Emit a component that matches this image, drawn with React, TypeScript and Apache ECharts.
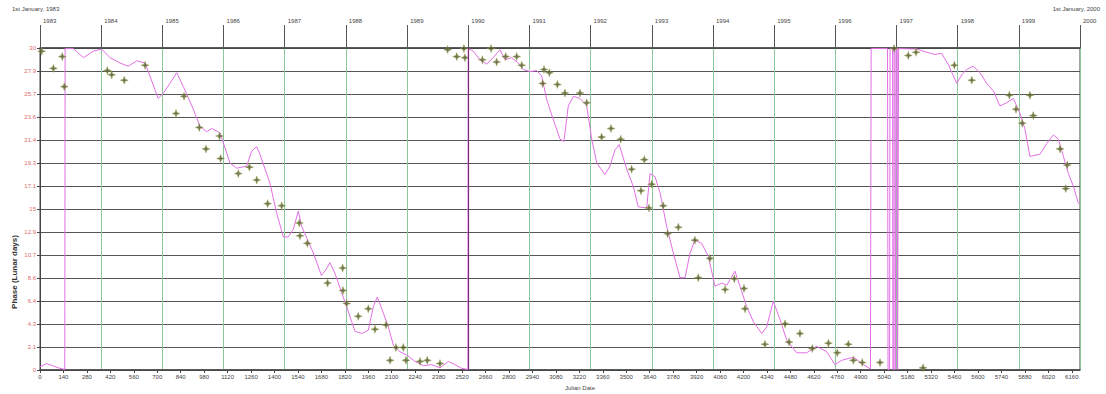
import React, { useEffect, useRef } from "react";
import * as echarts from "echarts";

const TOTAL_DAYS = 6209;
const START_YEAR = 1983;
const END_YEAR = 2000;
const BOTTOM_TICK_STEP = 140;
const PHASE_MAX = 30;
const PHASE_STEPS = 14;

const cornerLabels = ["1st January, 1983", "1st January, 2000"];
const yTitle = "Phase (Lunar days)";
const xTitle = "Julian Date";

const lineDays = [
  0, 40, 75, 110, 148, 150, 199, 259, 318, 368, 418, 478, 527, 577, 627, 706, 736, 776, 816, 856,
  915, 955, 995, 1025, 1075, 1134, 1174, 1234, 1264, 1294, 1313, 1373, 1413, 1453, 1482, 1512, 1542, 1562, 1632, 1680,
  1705, 1731, 1761, 1801, 1831, 1861, 1881, 1921, 1960, 1990, 2014, 2050, 2080, 2110, 2149, 2189, 2239, 2289, 2338, 2388,
  2438, 2478, 2518, 2555, 2557, 2587, 2627, 2667, 2706, 2746, 2776, 2816, 2856, 2886, 2925, 2965, 2995, 3025, 3065, 3105,
  3128, 3154, 3184, 3224, 3264, 3294, 3324, 3373, 3403, 3433, 3458, 3503, 3542, 3572, 3622, 3642, 3672, 3702, 3741, 3781,
  3821, 3851, 3881, 3910, 3950, 3990, 4030, 4070, 4100, 4149, 4179, 4219, 4259, 4309, 4338, 4378, 4418, 4458, 4517, 4577,
  4637, 4697, 4746, 4786, 4856, 4916, 4958, 4962, 5060, 5063, 5072, 5075, 5090, 5092, 5097, 5099, 5104, 5106, 5110, 5112,
  5118, 5120, 5124, 5126, 5234, 5294, 5343, 5383, 5423, 5473, 5503, 5533, 5572, 5612, 5652, 5692, 5731, 5771, 5811, 5851,
  5881, 5910, 5970, 6010, 6050, 6080, 6110, 6140, 6170, 6200,
];
const linePhases = [
  0.3, 0.6, 0.4, 0.2, 0.05, 29.95, 29.95, 29.1, 29.7, 29.9, 29.1, 28.6, 28.3, 28.8, 28.6, 25.3, 25.8, 26.7, 27.7, 26.4,
  24.3, 22.7, 22.2, 22.5, 22.1, 19.3, 18.8, 19.0, 20.4, 20.8, 20.1, 17.4, 14.6, 12.4, 12.4, 13.1, 14.8, 13.4, 10.9, 8.8,
  9.3, 10.0, 9.0, 7.2, 5.9, 4.5, 3.6, 3.4, 3.7, 5.9, 6.8, 5.3, 4.0, 2.3, 1.7, 1.4, 0.8, 0.4, 0.5, 0.2,
  0.8, 0.5, 0.15, 0.05, 29.95, 29.7, 28.9, 28.5, 29.1, 29.85, 28.9, 29.1, 28.6, 28.0, 27.8, 27.9, 27.4, 25.2, 23.3, 21.5,
  21.3, 24.6, 25.5, 25.3, 24.6, 21.5, 19.3, 18.2, 19.0, 20.5, 21.0, 18.7, 17.1, 15.2, 15.1, 18.3, 18.0, 16.5, 13.4, 10.9,
  8.6, 8.6, 10.9, 12.1, 11.8, 10.6, 7.8, 8.1, 7.9, 9.2, 7.8, 5.9, 4.5, 3.4, 4.0, 6.4, 4.7, 2.8, 1.6, 1.6,
  2.2, 1.7, 0.5, 0.9, 1.2, 0.5, 0.1, 29.95, 29.95, 0.05, 0.05, 29.95, 29.95, 0.05, 0.05, 29.95, 29.95, 0.05, 0.05, 29.95,
  29.95, 0.05, 0.05, 29.95, 29.9, 29.6, 29.4, 29.5, 28.45, 26.7, 27.5, 28.0, 28.3, 27.7, 26.7, 26.0, 24.6, 24.9, 25.3, 23.9,
  22.4, 19.9, 20.1, 21.1, 21.9, 21.5, 19.9, 18.3, 17.1, 15.5,
];

const pointDays = [
  10, 80, 133, 145, 402, 428, 503, 627, 812, 860, 951, 991, 1072, 1078, 1184, 1250, 1294, 1359, 1443, 1548,
  1552, 1596, 1717, 1807, 1809, 1831, 1900, 1960, 2000, 2066, 2090, 2125, 2169, 2185, 2269, 2312, 2388, 2434, 2488, 2531,
  2537, 2641, 2693, 2726, 2780, 2846, 2876, 3001, 3009, 3041, 3089, 3134, 3224, 3264, 3353, 3409, 3467, 3532, 3588, 3608,
  3636, 3652, 3721, 3747, 3811, 3910, 3930, 4000, 4090, 4145, 4203, 4209, 4328, 4448, 4472, 4537, 4611, 4707, 4760, 4826,
  4856, 4909, 5015, 5099, 5184, 5230, 5272, 5459, 5563, 5787, 5827, 5864, 5910, 5930, 6090, 6124, 6133,
];
const pointPhases = [
  29.7, 28.1, 29.2, 26.4, 27.9, 27.5, 27.0, 28.4, 23.9, 25.5, 22.6, 20.6, 21.8, 19.7, 18.3, 18.9, 17.7, 15.5, 15.3, 13.7,
  12.5, 11.8, 8.1, 9.5, 7.4, 6.2, 5.0, 5.7, 3.8, 4.2, 0.9, 2.1, 2.1, 0.9, 0.8, 0.9, 0.6, 29.85, 29.2, 29.95,
  29.1, 28.9, 29.95, 28.7, 29.2, 29.2, 28.4, 26.7, 28.0, 27.7, 26.6, 25.8, 25.8, 24.9, 21.7, 22.5, 21.5, 18.7, 16.7, 19.6,
  15.1, 17.3, 15.3, 12.7, 13.3, 12.1, 8.6, 10.4, 7.5, 8.5, 7.6, 5.7, 2.4, 4.3, 2.6, 3.4, 2.0, 2.5, 1.6, 2.4,
  0.9, 0.7, 0.7, 29.95, 29.3, 29.6, 0.2, 28.4, 27.0, 25.6, 24.3, 23.0, 25.6, 23.7, 20.6, 16.9, 19.1,
];

const wrapDays = [2556];

const STAR = "path://M0,-10 L2.6,-2.6 L10,0 L2.6,2.6 L0,10 L-2.6,2.6 L-10,0 L-2.6,-2.6 Z";
const FONT = "Liberation Sans, Arial, sans-serif";

export default function App() {
  const ref = useRef<HTMLDivElement>(null);
  useEffect(() => {
    const chart = echarts.init(ref.current!, null, { renderer: "svg" });
    const lineData = lineDays.map((d, i) => [d, linePhases[i]]);
    const pointData = pointDays.map((d, i) => [d, pointPhases[i]]);
    const yStep = PHASE_MAX / PHASE_STEPS;
    const DAY = 86400000;
    const tMin = +new Date(START_YEAR, 0, 1);
    const tMax = +new Date(END_YEAR, 0, 1);
    chart.setOption({
      animation: false,
      backgroundColor: "#ffffff",
      textStyle: { fontFamily: FONT },
      grid: { left: 40, right: 26, top: 48, bottom: 24, show: true, borderColor: "#444", borderWidth: 1, backgroundColor: "#fff" },
      xAxis: [
        {
          type: "value",
          position: "bottom",
          min: 0,
          max: TOTAL_DAYS,
          interval: BOTTOM_TICK_STEP,
          axisLine: { show: true, lineStyle: { color: "#444", width: 1.5 } },
          axisTick: { show: true, length: 3, lineStyle: { color: "#444" } },
          axisLabel: { fontSize: 6, color: "#444", margin: 4, fontFamily: FONT, showMaxLabel: false, formatter: (v: number) => String(v) },
          splitLine: { show: false },
        },
        {
          type: "time",
          position: "top",
          min: tMin,
          max: tMax,
          minInterval: 365 * DAY,
          maxInterval: 366 * DAY,
          axisLine: { show: true, lineStyle: { color: "#444", width: 1.5 } },
          axisTick: { show: true, length: 23, lineStyle: { color: "#555" } },
          axisLabel: {
            fontSize: 6,
            color: "#444",
            margin: 24,
            align: "left",
            padding: [0, 0, 0, 3],
            fontFamily: FONT,
            showMinLabel: true,
            showMaxLabel: true,
            hideOverlap: false,
            formatter: (v: number) => String(new Date(Math.max(v, tMin) + 15 * DAY).getFullYear()),
          },
          splitLine: { show: true, lineStyle: { color: "#8cc79a", width: 1 } },
        },
      ],
      yAxis: {
        type: "value",
        min: 0,
        max: PHASE_MAX,
        interval: yStep,
        axisLine: { show: true, lineStyle: { color: "#444" } },
        axisTick: { show: true, length: 3, lineStyle: { color: "#444" } },
        axisLabel: {
          fontSize: 6,
          color: "#e06a6a",
          margin: 4,
          fontFamily: FONT,
          formatter: (v: number) => String(Math.round(v * 10) / 10),
        },
        splitLine: { show: true, lineStyle: { color: "#555", width: 1 } },
      },
      graphic: [
        { type: "text", left: 12, top: 6, style: { text: cornerLabels[0], fontSize: 6, fill: "#444", fontFamily: FONT } },
        { type: "text", right: 6, top: 6, style: { text: cornerLabels[1], fontSize: 6, fill: "#444", fontFamily: FONT } },
        {
          type: "text",
          x: 14,
          y: 272,
          rotation: Math.PI / 2,
          style: { text: yTitle, fontSize: 8, fontWeight: "bold", fill: "#333", align: "center", verticalAlign: "middle", fontFamily: FONT },
        },
        {
          type: "text",
          x: 580,
          y: 388,
          style: { text: xTitle, fontSize: 6, fill: "#444", align: "center", verticalAlign: "middle", fontFamily: FONT },
        },
      ],
      series: [
        {
          type: "line",
          xAxisIndex: 0,
          data: lineData,
          showSymbol: false,
          symbol: "none",
          lineStyle: { color: "#e26ee6", width: 1 },
          z: 3,
          markLine: {
            silent: true,
            symbol: "none",
            label: { show: false },
            lineStyle: { color: "#7a2b7a", width: 1.2, type: "solid" },
            data: wrapDays.map((d) => ({ xAxis: d })),
          },
        },
        {
          type: "scatter",
          xAxisIndex: 0,
          data: pointData,
          symbol: STAR,
          symbolSize: 8,
          itemStyle: { color: "#4e5527", borderColor: "#a0a656", borderWidth: 0.6 },
          z: 4,
        },
      ],
    });
    return () => chart.dispose();
  }, []);
  return <div ref={ref} style={{ position: "absolute", left: 0, top: 0, width: 1106, height: 394, background: "#fff" }} />;
}
